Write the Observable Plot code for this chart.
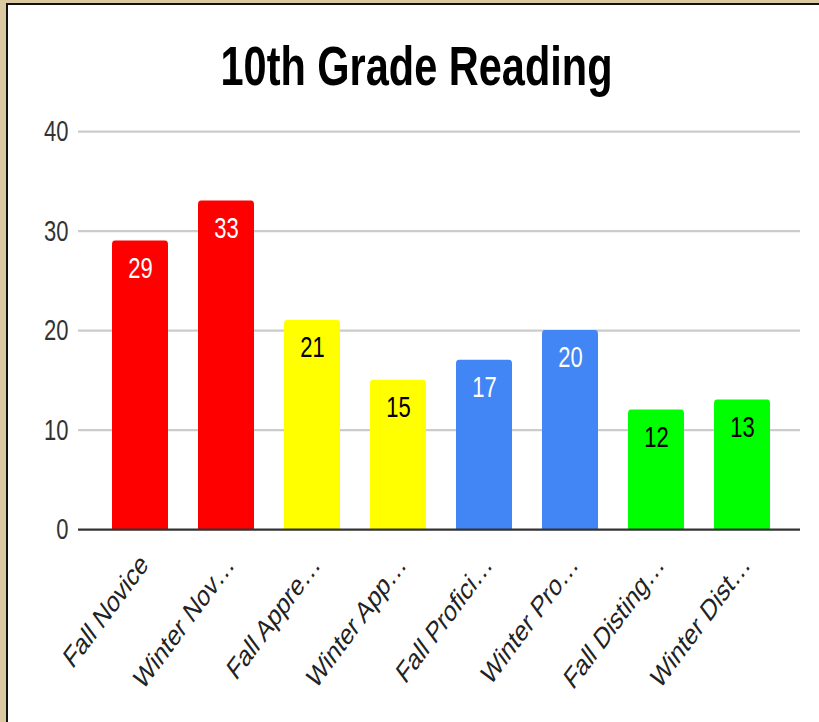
<!DOCTYPE html>
<html><head><meta charset="utf-8">
<script src="https://cdn.jsdelivr.net/npm/d3@7"></script>
<script src="https://cdn.jsdelivr.net/npm/@observablehq/plot@0.6"></script>
<style>
html,body{margin:0;padding:0;}
body{width:819px;height:722px;overflow:hidden;background:#dbcaa1;position:relative;}
#frame{position:absolute;left:6px;top:3px;width:813px;height:719px;border-left:2px solid #111;border-top:2px solid #111;background:#fff;overflow:hidden;box-sizing:border-box;}
#content{position:absolute;left:0;top:0;width:811px;transform:scaleY(1.35);transform-origin:0 0;}
#title{height:70px;box-sizing:border-box;padding-top:21px;padding-left:6px;text-align:center;font:bold 41.5px "Liberation Sans",Arial,sans-serif;color:#000;line-height:normal;margin:0;}
#chart svg{display:block;}
</style></head>
<body>
<div id="frame"><div id="content"><h1 id="title">10th Grade Reading</h1><div id="chart"></div></div></div>
<script>
const categories = ["Fall Novice","Winter Novice","Fall Apprentice","Winter Apprentice","Fall Proficient","Winter Proficient","Fall Distinguished","Winter Distinguished"];
const tickLabels = ["Fall Novice","Winter Nov…","Fall Appre…","Winter App…","Fall Profici…","Winter Pro…","Fall Disting…","Winter Dist…"];
const levels = ["Novice","Novice","Apprentice","Apprentice","Proficient","Proficient","Distinguished","Distinguished"];
const values = [29,33,21,15,17,20,12,13];
const yTicks = [0,10,20,30,40];
const levelDomain = ["Novice","Apprentice","Proficient","Distinguished"];
const levelColors = ["#ff0000","#ffff00","#4285f4","#00ff00"];
const whiteInkLevels = ["Novice","Proficient"];

const data = categories.map((c,i)=>({category:c, level:levels[i], value:values[i]}));
const labelMap = new Map(categories.map((c,i)=>[c, tickLabels[i]]));
const font = "'Liberation Sans', Arial, sans-serif";

const chart = Plot.plot({
  width: 811, height: 461,
  marginLeft: 70, marginRight: 19, marginTop: 23.3, marginBottom: 142.9,
  x: {domain: categories, paddingInner: 0.35, paddingOuter: 0.363, align: 0.535, label: null},
  y: {domain: [0, 40], label: null},
  color: {domain: levelDomain, range: levelColors},
  style: {fontFamily: font, fontSize: "22px", background: "white", overflow: "visible"},
  marks: [
    Plot.ruleY(yTicks.filter(t => t > 0), {stroke: "#cccccc", strokeWidth: 1.5}),
    Plot.barY(data, {x: "category", y: "value", fill: "level", rx: 3, insetBottom: -6, clip: true}),
    Plot.ruleY([0], {stroke: "#333333", strokeWidth: 1.6}),
    Plot.text(data, {filter: d => whiteInkLevels.includes(d.level), x: "category", y: "value", text: d => String(d.value), dy: 20, fill: "#ffffff", fontSize: 22}),
    Plot.text(data, {filter: d => !whiteInkLevels.includes(d.level), x: "category", y: "value", text: d => String(d.value), dy: 20, fill: "#000000", fontSize: 22}),
    Plot.axisY({ticks: yTicks, tickSize: 0, tickPadding: 10, fontSize: 22, color: "#333333", label: null}),
    Plot.axisX({tickSize: 0, tickPadding: 22, tickRotate: -45, tickFormat: d => labelMap.get(d), fontSize: 22, dx: 4, color: "#222222", label: null})
  ]
});
document.getElementById("chart").appendChild(chart);
</script>
</body></html>
